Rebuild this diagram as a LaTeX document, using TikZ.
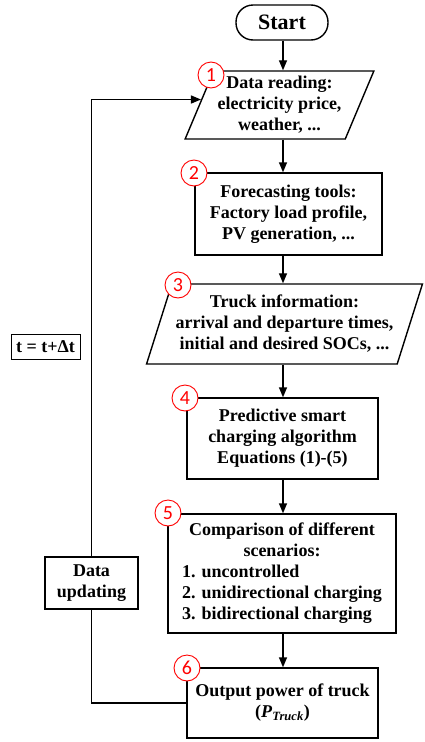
\documentclass[tikz,border=0pt]{standalone}
\usepackage{fontspec}
\setmainfont{Liberation Serif}
\newfontfamily\tnr{Liberation Serif}
\newfontfamily\cfont{Carlito}
\usetikzlibrary{shapes.geometric,arrows.meta}
\begin{document}
\begin{tikzpicture}[x=1pt,y=-1pt,
  every node/.style={font=\tnr\fontsize{18}{21}\selectfont\bfseries, align=center, inner sep=0pt},
  box/.style={draw, line width=1.4pt, rectangle},
  para/.style={draw, line width=1.4pt, trapezium, trapezium stretches=true},
  num/.style={draw=red, fill=white, circle, line width=0.9pt, minimum size=26pt, text=red, font=\cfont\fontsize{20}{20}\selectfont},
  arr/.style={line width=1.4pt, -{Triangle[length=10pt,width=8pt]}},
  ln/.style={line width=1.4pt}]
\useasboundingbox (0,0) rectangle (424,742);
\coordinate (axis) at (283,0);
\node[box, rounded corners=17pt, minimum width=92pt, minimum height=35pt, font=\tnr\fontsize{22}{24}\selectfont\bfseries] (start) at (282,22.5) {Start};
\node[para, trapezium left angle=64.8, trapezium right angle=115.2, minimum width=189pt, minimum height=68pt] (p1) at (279.5,105) {Data reading:\\electricity price,\\weather, ...};
\node[box, minimum width=187pt, minimum height=82pt] (b2) at (288.5,214) {Forecasting tools:\\Factory load profile,\\PV generation, ...};
\node[para, trapezium left angle=67, trapezium right angle=113, minimum width=277pt, minimum height=80pt] (p3) at (284.5,324) {Truck information:\\arrival and departure times,\\initial and desired SOCs, ...};
\node[box, minimum width=191pt, minimum height=81pt] (b4) at (282.5,438.5) {Predictive smart\\charging algorithm\\Equations (1)-(5)};
\node[box, minimum width=228pt, minimum height=119pt] (b5) at (282,573.5) {Comparison of different\\scenarios:\\\global\setbox1\hbox{2. unidirectional charging}\makebox[\wd1][l]{1. uncontrolled}\\2. unidirectional charging\\\makebox[\wd1][l]{3. bidirectional charging}};
\node[box, minimum width=191pt, minimum height=70pt] (b6) at (282.5,703) {Output power of truck\\(\textit{P}\textsubscript{\textit{Truck}})};
\node[box, minimum width=93pt, minimum height=52pt] (du) at (91.5,583) {Data\\updating};
\node[box, line width=1pt, minimum width=69pt, minimum height=25pt] (tt) at (45.5,346.5) {t = t+Δt};
\draw[arr] (start.south -| axis) -- (p1.north -| axis);
\draw[arr] (p1.south -| axis) -- (b2.north -| axis);
\draw[arr] (b2.south -| axis) -- (p3.north -| axis);
\draw[arr] (p3.south -| axis) -- (b4.north -| axis);
\draw[arr] (b4.south -| axis) -- (b5.north -| axis);
\draw[arr] (b5.south -| axis) -- (b6.north -| axis);
\draw[ln] (b6.west) -| (du.south);
\draw[arr] (du.north) |- (p1.176);
\node[num] (n1) at (211,75) {1};
\node[num] (n2) at (194,173) {2};
\node[num] (n3) at (178,285) {3};
\node[num] (n4) at (185,398) {4};
\node[num] (n5) at (168,513) {5};
\node[num] (n6) at (187,668) {6};
\end{tikzpicture}
\end{document}
